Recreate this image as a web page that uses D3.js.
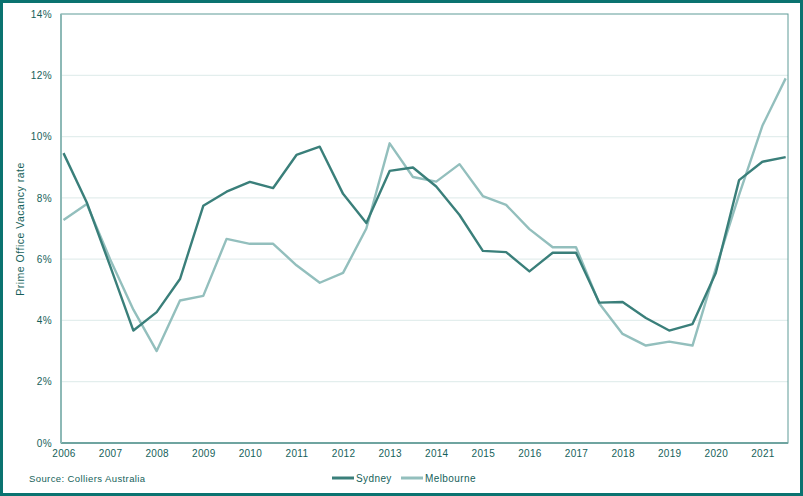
<!DOCTYPE html>
<html>
<head>
<meta charset="utf-8">
<script src="https://cdn.jsdelivr.net/npm/d3@7"></script>
<style>
  html, body { margin: 0; padding: 0; background: #fff; }
  svg { display: block; font-family: "Liberation Sans", Arial, sans-serif; }
</style>
</head>
<body>
<div class="chart"></div>
<script>
// half-yearly observations, 2006 H1 .. 2021 H2
var periods = d3.range(2006, 2022, 0.5);
var sydney = [9.46, 7.85, 5.78, 3.67, 4.27, 5.35, 7.74, 8.2, 8.52, 8.32,
  9.4, 9.67, 8.13, 7.18, 8.88, 8.99, 8.37, 7.44, 6.27, 6.23,
  5.6, 6.21, 6.21, 4.58, 4.6, 4.08, 3.67, 3.88, 5.55, 8.58, 9.18, 9.33];
var melbourne = [7.28, 7.8, 6.0, 4.35, 3.0, 4.65, 4.8, 6.66, 6.5, 6.5,
  5.8, 5.23, 5.55, 7.0, 9.78, 8.68, 8.53, 9.1, 8.06, 7.77,
  6.98, 6.39, 6.39, 4.55, 3.56, 3.18, 3.31, 3.18, 5.7, 8.1, 10.35, 11.9];
var yearTicks = d3.range(2006, 2022);
var pctTicks = [0, 2, 4, 6, 8, 10, 12, 14];
var seriesNames = ["Sydney", "Melbourne"];
var seriesColors = ["#3a7f7a", "#93bfbd"];

var svgWidth = 803, svgHeight = 496;
var margin = { top: 14, right: 15, bottom: 53, left: 61 };
var width = svgWidth - margin.left - margin.right;
var height = svgHeight - margin.top - margin.bottom;
var textColor = "#155f5a";

var svg = d3.select(".chart").append("svg")
  .attr("width", svgWidth)
  .attr("height", svgHeight);

// outer frame
svg.append("rect")
  .attr("x", 1.5).attr("y", 1.5)
  .attr("width", svgWidth - 3).attr("height", svgHeight - 3)
  .attr("fill", "none")
  .attr("stroke", "#0a7370")
  .attr("stroke-width", 3);

var chart = svg.append("g")
  .attr("transform", `translate(${margin.left}, ${margin.top})`);

var x = d3.scaleLinear()
  .domain([2006, 2021.55])
  .range([2.5, width]);

var y = d3.scaleLinear()
  .domain([0, 14])
  .range([height, 0]);

// gridlines
chart.append("g")
  .selectAll("line")
  .data(pctTicks.slice(1, -1))
  .enter().append("line")
  .attr("x1", 0).attr("x2", width)
  .attr("y1", function(d) { return y(d); })
  .attr("y2", function(d) { return y(d); })
  .attr("stroke", "#e3eeed")
  .attr("stroke-width", 1.2);

// y axis
var yAxis = chart.append("g")
  .call(d3.axisLeft(y).tickValues(pctTicks).tickSize(0).tickPadding(9)
    .tickFormat(function(d) { return d + "%"; }));
yAxis.select(".domain").remove();
yAxis.selectAll("text")
  .attr("fill", textColor)
  .style("font-size", "10px")
  .attr("letter-spacing", "0.4px");

// x axis
var xAxis = chart.append("g")
  .attr("transform", "translate(0," + height + ")")
  .call(d3.axisBottom(x).tickValues(yearTicks).tickSize(0).tickPadding(7)
    .tickFormat(d3.format("d")));
xAxis.select(".domain").remove();
xAxis.selectAll("text")
  .attr("fill", textColor)
  .style("font-size", "10px")
  .attr("letter-spacing", "0.3px");

// plot frame
chart.append("rect")
  .attr("x", 0).attr("y", 0)
  .attr("width", width).attr("height", height)
  .attr("fill", "none")
  .attr("stroke", "#5e9b97")
  .attr("stroke-width", 1);
chart.append("line")
  .attr("x1", 0).attr("x2", width)
  .attr("y1", height).attr("y2", height)
  .attr("stroke", "#6fa4a0")
  .attr("stroke-width", 2);
chart.append("line")
  .attr("x1", 0).attr("x2", 0)
  .attr("y1", 0).attr("y2", height)
  .attr("stroke", "#8db9b6")
  .attr("stroke-width", 2);

var line = d3.line()
  .x(function(d) { return x(d[0]); })
  .y(function(d) { return y(d[1]); });

var seriesData = [sydney, melbourne];
// melbourne drawn first so sydney sits on top
[1, 0].forEach(function(i) {
  chart.append("path")
    .datum(periods.map(function(p, j) { return [p, seriesData[i][j]]; }))
    .attr("d", line)
    .attr("fill", "none")
    .attr("stroke", seriesColors[i])
    .attr("stroke-width", 2.4)
    .attr("stroke-linejoin", "round");
});

// y axis title
svg.append("text")
  .attr("transform", "translate(24,229) rotate(-90)")
  .attr("text-anchor", "middle")
  .attr("fill", textColor)
  .style("font-size", "10.5px")
  .attr("letter-spacing", "0.5px")
  .text("Prime Office Vacancy rate");

// source note
svg.append("text")
  .attr("x", 29).attr("y", 482)
  .attr("fill", textColor)
  .style("font-size", "9.5px")
  .attr("letter-spacing", "0.4px")
  .text("Source: Colliers Australia");

// legend
var legendX = [332, 401];
var legend = svg.append("g");
seriesNames.forEach(function(name, i) {
  legend.append("line")
    .attr("x1", legendX[i]).attr("x2", legendX[i] + 22)
    .attr("y1", 478).attr("y2", 478)
    .attr("stroke", seriesColors[i])
    .attr("stroke-width", 3);
  legend.append("text")
    .attr("x", legendX[i] + 24).attr("y", 481.5)
    .attr("fill", textColor)
    .style("font-size", "10px")
    .attr("letter-spacing", "0.4px")
    .text(name);
});
</script>
</body>
</html>
